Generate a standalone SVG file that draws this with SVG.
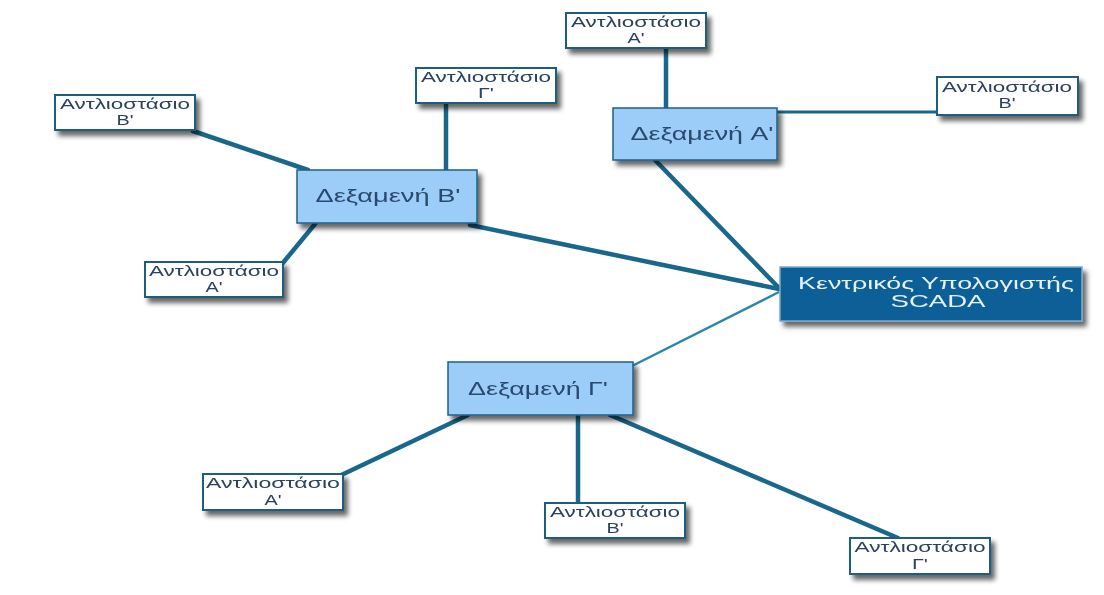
<svg xmlns="http://www.w3.org/2000/svg" width="1104" height="595" viewBox="0 0 1104 595">
<defs>
<filter id="sh" x="-20%" y="-30%" width="150%" height="180%">
<feGaussianBlur in="SourceAlpha" stdDeviation="2.5"/>
<feOffset dx="4" dy="5" result="b"/>
<feComponentTransfer><feFuncA type="linear" slope="0.6"/></feComponentTransfer>
<feMerge><feMergeNode/><feMergeNode in="SourceGraphic"/></feMerge>
</filter>
<style>
.pump{fill:#ffffff;stroke:#1f5f7c;stroke-width:2}
.tank{fill:#9ccdf8;stroke:#1f5f85;stroke-width:1.5}
.main{fill:#0b5e98;stroke:#7fa8c8;stroke-width:1.5}
.pt{font-family:"Liberation Sans",Arial,sans-serif;font-size:14px;fill:#2a4260;text-anchor:middle}
.p2{font-family:"Liberation Sans",Arial,sans-serif;font-size:15px;fill:#2a4260;text-anchor:middle}
.tt{font-family:"Liberation Sans",Arial,sans-serif;font-size:19px;fill:#2a4a6e;text-anchor:middle}
.mt{font-family:"Liberation Sans",Arial,sans-serif;font-size:17px;fill:#e8f2fa;text-anchor:middle}
.c{stroke:#1a678c;stroke-width:4.5;fill:none;stroke-linecap:round}
.c2{stroke:#1a678c;stroke-width:3;fill:none}
.c3{stroke:#2a86ad;stroke-width:2.5;fill:none}
</style>
</defs>
<rect width="1104" height="595" fill="#ffffff"/>
<g id="connectors">
<line class="c" x1="666" y1="48" x2="666" y2="108"/>
<line class="c2" x1="777" y1="112" x2="937" y2="112"/>
<line class="c" x1="655" y1="160" x2="779" y2="288"/>
<line class="c" x1="470" y1="225" x2="779" y2="289"/>
<line class="c3" x1="630" y1="367" x2="779" y2="292"/>
<line class="c" x1="446" y1="103" x2="446" y2="170"/>
<line class="c" x1="193" y1="131" x2="308" y2="170"/>
<line class="c" x1="315" y1="224" x2="282" y2="264"/>
<line class="c" x1="468" y1="415" x2="335" y2="478"/>
<line class="c" x1="578" y1="415" x2="578" y2="502"/>
<line class="c" x1="610" y1="415" x2="898" y2="538"/>
</g>
<g id="pumpA_top" filter="url(#sh)">
<rect class="pump" x="566" y="13" width="140" height="35"/>
<text class="pt" x="636" y="27" textLength="130" lengthAdjust="spacingAndGlyphs">Αντλιοστάσιο</text>
<text class="p2" x="636" y="43" textLength="17" lengthAdjust="spacingAndGlyphs">A'</text>
</g>
<g id="pumpB_right" filter="url(#sh)">
<rect class="pump" x="937" y="77" width="141" height="38"/>
<text class="pt" x="1007" y="92" textLength="130" lengthAdjust="spacingAndGlyphs">Αντλιοστάσιο</text>
<text class="p2" x="1007" y="108" textLength="17" lengthAdjust="spacingAndGlyphs">B'</text>
</g>
<g id="tankA" filter="url(#sh)">
<rect class="tank" x="613" y="108" width="164" height="52"/>
<text class="tt" x="702" y="140" textLength="143" lengthAdjust="spacingAndGlyphs">Δεξαμενή A'</text>
</g>
<g id="pumpG_top" filter="url(#sh)">
<rect class="pump" x="416" y="68" width="140" height="35"/>
<text class="pt" x="486" y="82" textLength="130" lengthAdjust="spacingAndGlyphs">Αντλιοστάσιο</text>
<text class="p2" x="486" y="98" textLength="16" lengthAdjust="spacingAndGlyphs">Γ'</text>
</g>
<g id="pumpB_left" filter="url(#sh)">
<rect class="pump" x="55" y="95" width="140" height="35"/>
<text class="pt" x="125" y="109" textLength="130" lengthAdjust="spacingAndGlyphs">Αντλιοστάσιο</text>
<text class="p2" x="125" y="125" textLength="17" lengthAdjust="spacingAndGlyphs">B'</text>
</g>
<g id="tankB" filter="url(#sh)">
<rect class="tank" x="297" y="170" width="180" height="53"/>
<text class="tt" x="388" y="202" textLength="145" lengthAdjust="spacingAndGlyphs">Δεξαμενή B'</text>
</g>
<g id="pumpA_left" filter="url(#sh)">
<rect class="pump" x="145" y="262" width="138" height="35"/>
<text class="pt" x="214" y="276" textLength="130" lengthAdjust="spacingAndGlyphs">Αντλιοστάσιο</text>
<text class="p2" x="214" y="292" textLength="17" lengthAdjust="spacingAndGlyphs">A'</text>
</g>
<g id="scada" filter="url(#sh)">
<rect class="main" x="780" y="267" width="302" height="54"/>
<text class="mt" x="936" y="289" textLength="276" lengthAdjust="spacingAndGlyphs">Κεντρικός Υπολογιστής</text>
<text class="mt" x="938" y="307" textLength="95" lengthAdjust="spacingAndGlyphs">SCADA</text>
</g>
<g id="tankG" filter="url(#sh)">
<rect class="tank" x="448" y="362" width="185" height="53"/>
<text class="tt" x="538" y="395" textLength="140" lengthAdjust="spacingAndGlyphs">Δεξαμενή Γ'</text>
</g>
<g id="pumpA_bottom" filter="url(#sh)">
<rect class="pump" x="203" y="474" width="140" height="36"/>
<text class="pt" x="273" y="488" textLength="134" lengthAdjust="spacingAndGlyphs">Αντλιοστάσιο</text>
<text class="p2" x="273" y="505" textLength="17" lengthAdjust="spacingAndGlyphs">A'</text>
</g>
<g id="pumpB_bottom" filter="url(#sh)">
<rect class="pump" x="545" y="503" width="140" height="35"/>
<text class="pt" x="615" y="517" textLength="130" lengthAdjust="spacingAndGlyphs">Αντλιοστάσιο</text>
<text class="p2" x="615" y="533" textLength="17" lengthAdjust="spacingAndGlyphs">B'</text>
</g>
<g id="pumpG_bottom" filter="url(#sh)">
<rect class="pump" x="850" y="538" width="140" height="36"/>
<text class="pt" x="920" y="552" textLength="131" lengthAdjust="spacingAndGlyphs">Αντλιοστάσιο</text>
<text class="p2" x="920" y="569" textLength="16" lengthAdjust="spacingAndGlyphs">Γ'</text>
</g>
</svg>
